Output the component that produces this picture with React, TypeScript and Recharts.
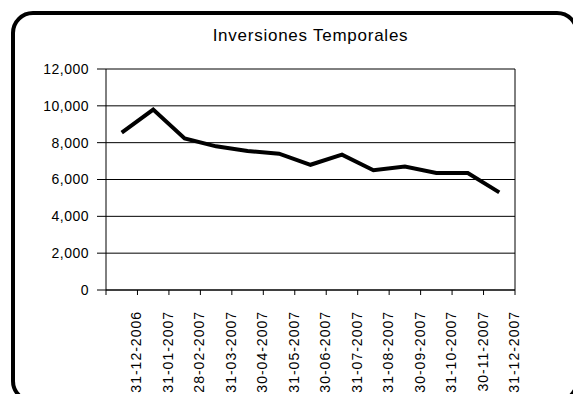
import { CartesianGrid, Line, LineChart, ReferenceLine, XAxis, YAxis } from 'recharts';

const categories = [
  '31-12-2006',
  '31-01-2007',
  '28-02-2007',
  '31-03-2007',
  '30-04-2007',
  '31-05-2007',
  '30-06-2007',
  '31-07-2007',
  '31-08-2007',
  '30-09-2007',
  '31-10-2007',
  '30-11-2007',
  '31-12-2007',
];
const values = [8550, 9800, 8230, 7800, 7550, 7400, 6800, 7350, 6500, 6700, 6350, 6350, 5300];
const yTicks = [0, 2000, 4000, 6000, 8000, 10000, 12000];
const yMinorTicks = [1000, 3000, 5000, 7000, 9000, 11000];
const xTicks = [0, 1, 2, 3, 4, 5, 6, 7, 8, 9, 10, 11, 12, 13];
const xMinorTicks = [0.5, 1.5, 2.5, 3.5, 4.5, 5.5, 6.5, 7.5, 8.5, 9.5, 10.5, 11.5, 12.5];

const data = categories.map((date, i) => ({ pos: i + 0.5, date, value: values[i] }));

const FONT = '"Liberation Sans", Arial, sans-serif';

function XTick(props: any) {
  const { x, y, payload } = props;
  const label = categories[payload.value - 1];
  if (!label) return null;
  return (
    <text
      transform={`translate(${x + 4},${y + 14}) rotate(-90)`}
      textAnchor="end"
      fontFamily={FONT}
      fontSize={14}
      fill="#000"
      style={{ letterSpacing: 1 }}
    >
      {label}
    </text>
  );
}

export default function App() {
  return (
    <div style={{ position: 'relative', width: 581, height: 402, margin: -8, background: '#fff', overflow: 'hidden' }}>
      <div
        style={{
          position: 'absolute',
          left: 11,
          top: 11,
          width: 568,
          height: 392,
          border: '4px solid #000',
          borderRadius: 22,
          boxSizing: 'border-box',
        }}
      />
      <div
        style={{
          position: 'absolute',
          top: 26,
          left: 106,
          width: 409,
          textAlign: 'center',
          fontFamily: FONT,
          fontSize: 17,
          letterSpacing: 0.75,
          color: '#000',
        }}
      >
        Inversiones Temporales
      </div>
      <LineChart
        width={581}
        height={402}
        data={data}
        margin={{ top: 69, right: 66, left: 0, bottom: 0 }}
        style={{ position: 'absolute', left: 0, top: 0 }}
      >
        <CartesianGrid vertical={false} stroke="#000" horizontalValues={yTicks} />
        <XAxis
          xAxisId="minor"
          type="number"
          dataKey="pos"
          domain={[0, 13]}
          ticks={xMinorTicks}
          tick={false}
          tickSize={3}
          axisLine={false}
          tickLine={{ stroke: '#000' }}
          height={1}
        />
        <XAxis
          type="number"
          dataKey="pos"
          domain={[0, 13]}
          ticks={xTicks}
          interval={0}
          tick={<XTick />}
          tickSize={5}
          axisLine={{ stroke: '#000' }}
          tickLine={{ stroke: '#000' }}
          height={111}
        />
        <YAxis
          yAxisId="minor"
          domain={[0, 12000]}
          ticks={yMinorTicks}
          tick={false}
          tickSize={4}
          axisLine={false}
          tickLine={{ stroke: '#000' }}
          width={1}
        />
        <YAxis
          domain={[0, 12000]}
          ticks={yTicks}
          interval={0}
          tickSize={9}
          tickMargin={8}
          tickFormatter={(v: number) => v.toLocaleString('en-US')}
          tick={{ fill: '#000', fontSize: 14, fontFamily: FONT, style: { letterSpacing: 0.5 } } as any}
          axisLine={{ stroke: '#000' }}
          tickLine={{ stroke: '#000' }}
          width={105}
        />
        <ReferenceLine x={13} stroke="#000" />
        <Line
          type="linear"
          dataKey="value"
          stroke="#000"
          strokeWidth={4}
          dot={false}
          activeDot={false}
          isAnimationActive={false}
        />
      </LineChart>
    </div>
  );
}
